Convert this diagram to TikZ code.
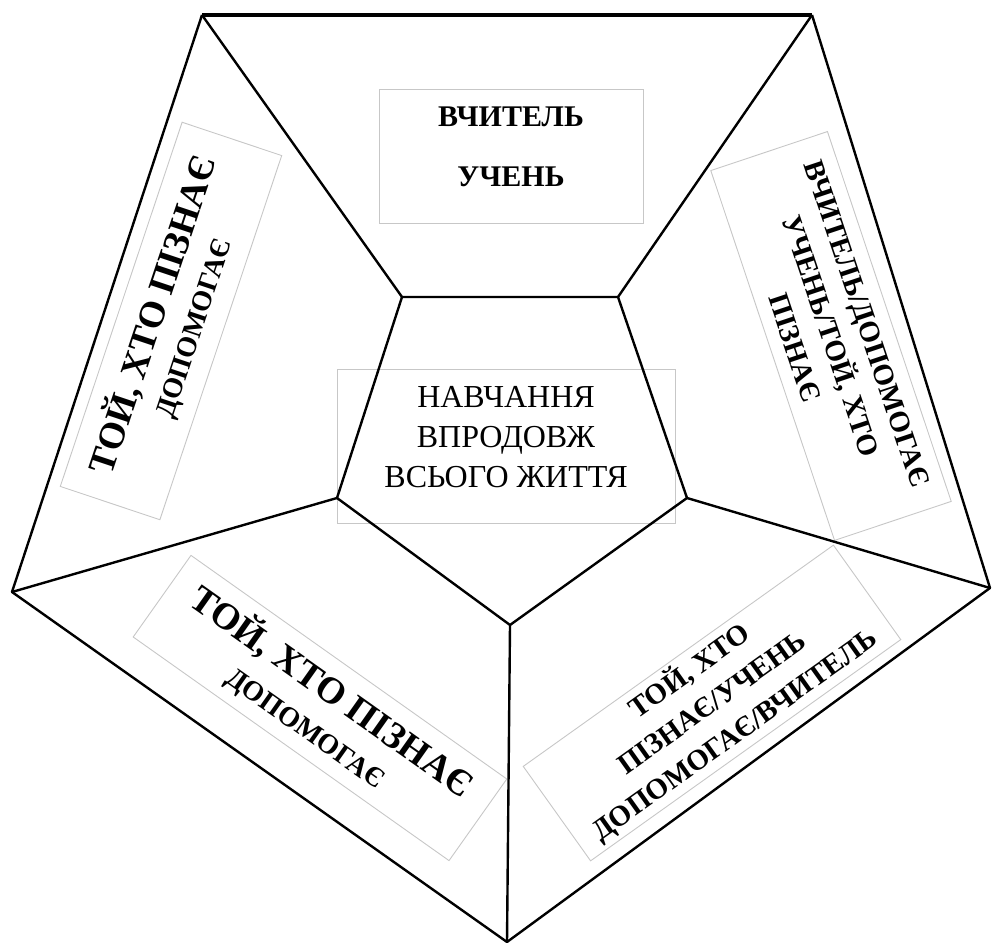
\documentclass[tikz,border=0pt]{standalone}
\usepackage{fontspec}
\setmainfont{Liberation Serif}
\tikzset{
  edge/.style={line width=2.4pt, black, line join=round},
  topedge/.style={line width=4pt, black},
  tbox/.style={draw=black!22, line width=0.9pt, inner sep=0pt, align=center, anchor=center},
}
\begin{document}
\begin{tikzpicture}[x=1pt,y=1pt]
\useasboundingbox (0,0) rectangle (992,944);
% outer vertices
\coordinate (oTL) at (202,929);
\coordinate (oTR) at (812,929);
\coordinate (oR) at (990,356);
\coordinate (oB) at (507,2);
\coordinate (oL) at (12,352);
% inner vertices
\coordinate (iTL) at (402,647);
\coordinate (iTR) at (618,647);
\coordinate (iR) at (687,446);
\coordinate (iB) at (510,319);
\coordinate (iL) at (337,446);
% text boxes
\node[tbox, minimum width=264, minimum height=134] (top) at (511,788) {};
\node[font=\fontsize{30}{60}\selectfont\bfseries, align=center, inner sep=0pt] (toptext) at (511,797)
  {ВЧИТЕЛЬ\\УЧЕНЬ};
\node[tbox, minimum width=338, minimum height=154] (mid) at (506,498) {};
\node[font=\fontsize{32}{40}\selectfont, align=center, inner sep=0pt] (midtext) at (506,507)
  {НАВЧАННЯ\\ВПРОДОВЖ\\ВСЬОГО ЖИТТЯ};
\node[tbox, minimum width=384, minimum height=105, rotate=71.5,
      font=\fontsize{37}{40}\selectfont\bfseries] (lft) at (171,623)
  {ТОЙ, ХТО ПІЗНАЄ\\{\fontsize{28}{30}\selectfont ДОПОМОГАЄ}};
\node[tbox, minimum width=390, minimum height=123, rotate=-71.5,
      font=\fontsize{29}{38}\selectfont\bfseries] (rgt) at (831,608)
  {ВЧИТЕЛЬ/ДОПОМОГАЄ\\УЧЕНЬ/ТОЙ, ХТО\\ПІЗНАЄ};
\node[tbox, minimum width=387, minimum height=100, rotate=-35.3,
      font=\fontsize{37.5}{42}\selectfont\bfseries] (bl) at (320,236)
  {ТОЙ, ХТО ПІЗНАЄ\\{\fontsize{28}{30}\selectfont ДОПОМОГАЄ}};
\node[tbox, minimum width=381, minimum height=116, rotate=35.5,
      font=\fontsize{29}{39}\selectfont\bfseries] (br) at (712,241)
  {ТОЙ, ХТО\\ПІЗНАЄ/УЧЕНЬ\\ДОПОМОГАЄ/ВЧИТЕЛЬ};
% outer pentagon
\draw[topedge] (oTL) -- (oTR);
\draw[edge] (oTR) -- (oR) -- (oB) -- (oL) -- (oTL);
% inner pentagon
\draw[edge] (iTL) -- (iTR) -- (iR) -- (iB) -- (iL) -- cycle;
% spokes
\draw[edge] (oTL) -- (iTL);
\draw[edge] (oTR) -- (iTR);
\draw[edge] (oR) -- (iR);
\draw[edge] (oB) -- (iB);
\draw[edge] (oL) -- (iL);
\end{tikzpicture}
\end{document}
